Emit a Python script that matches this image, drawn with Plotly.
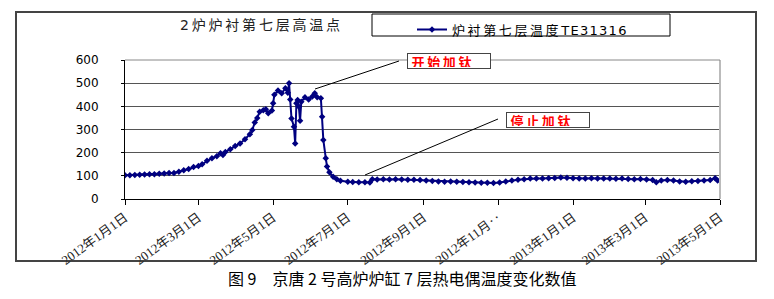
import plotly.graph_objects as go

# ---------------- data ----------------
dates = [
    "2012-01-01", "2012-01-05", "2012-01-09", "2012-01-13", "2012-01-17", "2012-01-21",
    "2012-01-25", "2012-01-29", "2012-02-02", "2012-02-06", "2012-02-10", "2012-02-14",
    "2012-02-18", "2012-02-22", "2012-02-26", "2012-03-01", "2012-03-04", "2012-03-08",
    "2012-03-12", "2012-03-16", "2012-03-19", "2012-03-21", "2012-03-23", "2012-03-27",
    "2012-03-31", "2012-04-04", "2012-04-08", "2012-04-12", "2012-04-14", "2012-04-16",
    "2012-04-18", "2012-04-20", "2012-04-23", "2012-04-25", "2012-04-27", "2012-04-30",
    "2012-05-01", "2012-05-02", "2012-05-05", "2012-05-08", "2012-05-11", "2012-05-13",
    "2012-05-14", "2012-05-15", "2012-05-16", "2012-05-18", "2012-05-19", "2012-05-20",
    "2012-05-21", "2012-05-22", "2012-05-23", "2012-05-24", "2012-05-27", "2012-05-30",
    "2012-06-02", "2012-06-04", "2012-06-06", "2012-06-09", "2012-06-10", "2012-06-11",
    "2012-06-13", "2012-06-14", "2012-06-16", "2012-06-19", "2012-06-22", "2012-06-25",
    "2012-07-01", "2012-07-05", "2012-07-10", "2012-07-15", "2012-07-19", "2012-07-21",
    "2012-07-25", "2012-07-30", "2012-08-04", "2012-08-09", "2012-08-14", "2012-08-19",
    "2012-08-24", "2012-08-29", "2012-09-03", "2012-09-08", "2012-09-13", "2012-09-18",
    "2012-09-23", "2012-09-28", "2012-10-03", "2012-10-08", "2012-10-13", "2012-10-18",
    "2012-10-23", "2012-10-28", "2012-11-02", "2012-11-07", "2012-11-12", "2012-11-17",
    "2012-11-22", "2012-11-27", "2012-12-02", "2012-12-07", "2012-12-12", "2012-12-17",
    "2012-12-22", "2012-12-27", "2013-01-01", "2013-01-06", "2013-01-11", "2013-01-16",
    "2013-01-21", "2013-01-26", "2013-01-31", "2013-02-05", "2013-02-10", "2013-02-15",
    "2013-02-20", "2013-02-25", "2013-03-02", "2013-03-07", "2013-03-10", "2013-03-14",
    "2013-03-19", "2013-03-24", "2013-03-29", "2013-04-03", "2013-04-08", "2013-04-13",
    "2013-04-18", "2013-04-23", "2013-04-27", "2013-04-29", "2013-05-01",
]
temps = [
    102, 103, 104, 105, 106, 107,
    107, 109, 110, 112, 112, 118,
    124, 130, 138, 142, 150, 165,
    176, 185, 197, 190, 203, 215,
    229, 240, 258, 280, 298, 330,
    350, 377, 383, 387, 370, 382,
    413, 450, 468, 456, 478, 459,
    500, 430, 348, 312, 240, 413,
    427, 398, 338, 420, 439, 430,
    442, 456, 439, 435, 355, 255,
    176, 140, 115, 96, 85, 79,
    75, 73, 72, 72, 71, 85,
    84, 85, 84, 85, 84, 83,
    83, 82, 80, 78, 76, 75,
    76, 74, 73, 72, 71, 70,
    70, 69, 71, 76, 80, 83,
    85, 88, 89, 88, 90, 91,
    93, 92, 90, 89, 88, 90,
    89, 88, 89, 87, 88, 86,
    85, 86, 84, 82, 72, 80,
    82, 80, 76, 75, 77, 78,
    80, 82, 90, 80, 80,
]
tick_dates = ["2012-01-01", "2012-03-01", "2012-05-01", "2012-07-01", "2012-09-01",
              "2012-11-01", "2013-01-01", "2013-03-01", "2013-05-01"]
tick_text = ["2012年1月1日", "2012年3月1日", "2012年5月1日", "2012年7月1日", "2012年9月1日",
             "2012年11月‥", "2013年1月1日", "2013年3月1日", "2013年5月1日"]
y_ticks = [0, 100, 200, 300, 400, 500, 600]

series_name = "炉\u2009衬\u2009第\u2009七\u2009层\u2009温\u2009度\u2009T\u200aE\u200a3\u200a1\u200a3\u200a1\u200a6"
chart_title = "2\u2009炉\u2009炉\u2009衬\u2009第\u2009七\u2009层\u2009高\u2009温\u2009点"
note_start = "\u2009开\u2009始\u2009加\u2009钛"
note_stop = "\u2009停\u2009止\u2009加\u2009钛"
caption = "图 9　京唐 2 号高炉炉缸 7 层热电偶温度变化数值"

# ---------------- layout helpers (pixel -> paper) ----------------
W, H = 774, 299
L, R, T, B = 125, 720, 60, 199


def px(x):
    return (x - L) / (R - L)


def py(y):
    return (B - y) / (B - T)


NAVY = "#000080"

fig = go.Figure()
fig.add_trace(go.Scatter(
    x=dates, y=temps, mode="lines+markers", name=series_name,
    line=dict(color=NAVY, width=2),
    marker=dict(symbol="diamond", size=5, color=NAVY),
))

fig.update_layout(
    width=W, height=H,
    margin=dict(l=L, r=W - R, t=T, b=H - B),
    paper_bgcolor="white", plot_bgcolor="white",
    showlegend=True,
    legend=dict(x=px(412), y=py(14.5), xanchor="left", yanchor="top",
                bgcolor="rgba(0,0,0,0)", borderwidth=0,
                font=dict(family="DejaVu Sans, Noto Sans CJK SC", size=13, color="black")),
    xaxis=dict(
        range=["2012-01-01", "2013-05-01"], type="date",
        tickvals=tick_dates, ticktext=tick_text, tickangle=-36,
        ticks="outside", ticklen=5, tickcolor="black",
        showline=True, linecolor="black", linewidth=1,
        showgrid=False, zeroline=False,
        tickfont=dict(family="Liberation Serif, Noto Sans CJK SC", size=13, color="#222"),
    ),
    yaxis=dict(
        range=[0, 600], tickvals=y_ticks,
        ticks="outside", ticklen=3, tickcolor="black",
        showline=True, linecolor="black", linewidth=1,
        showgrid=True, gridcolor="#555", gridwidth=1, zeroline=False,
        ticklabelstandoff=20,
        tickfont=dict(family="DejaVu Sans", size=12, color="black"),
    ),
)

shapes = [
    # outer frame
    dict(type="rect", xref="paper", yref="paper", x0=px(16), x1=px(756), y0=py(261), y1=py(12),
         line=dict(color="#444", width=2), layer="below"),
    # legend box
    dict(type="rect", xref="paper", yref="paper", x0=px(372), x1=px(670), y0=py(36), y1=py(14),
         line=dict(color="black", width=1)),
    # right plot border
    dict(type="line", xref="paper", yref="paper", x0=1, x1=1, y0=0, y1=1,
         line=dict(color="#bbb", width=2)),
    # top plot border
    dict(type="line", xref="paper", yref="paper", x0=0, x1=1, y0=1, y1=1,
         line=dict(color="#888", width=1)),
    # leader lines
    dict(type="line", xref="paper", yref="paper", x0=px(315), y0=py(89), x1=px(399), y1=py(61),
         line=dict(color="black", width=1)),
    dict(type="line", xref="paper", yref="paper", x0=px(365), y0=py(175), x1=px(498), y1=py(119),
         line=dict(color="black", width=1)),
]
fig.update_layout(shapes=shapes)

annotations = [
    dict(text=chart_title, xref="paper", yref="paper", x=px(260), y=py(25),
         xanchor="center", yanchor="middle", showarrow=False,
         font=dict(family="DejaVu Sans, Noto Sans CJK SC", size=14, color="#222")),
    dict(text=note_start, xref="paper", yref="paper", x=px(407), y=py(53),
         xanchor="left", yanchor="top", showarrow=False, align="left",
         width=80, height=12, borderpad=1, borderwidth=1, bordercolor="#444", bgcolor="white",
         font=dict(family="Noto Sans CJK SC", size=13, color="red", weight="bold")),
    dict(text=note_stop, xref="paper", yref="paper", x=px(506), y=py(111.5),
         xanchor="left", yanchor="top", showarrow=False, align="left",
         width=80, height=12, borderpad=1, borderwidth=1, bordercolor="#444", bgcolor="white",
         font=dict(family="Noto Sans CJK SC", size=13, color="red", weight="bold")),
    dict(text=caption, xref="paper", yref="paper", x=px(402), y=py(277.5),
         xanchor="center", yanchor="middle", showarrow=False,
         font=dict(family="Noto Sans CJK SC", size=16, color="black")),
]
fig.update_layout(annotations=annotations)

fig.write_html("out.html")
